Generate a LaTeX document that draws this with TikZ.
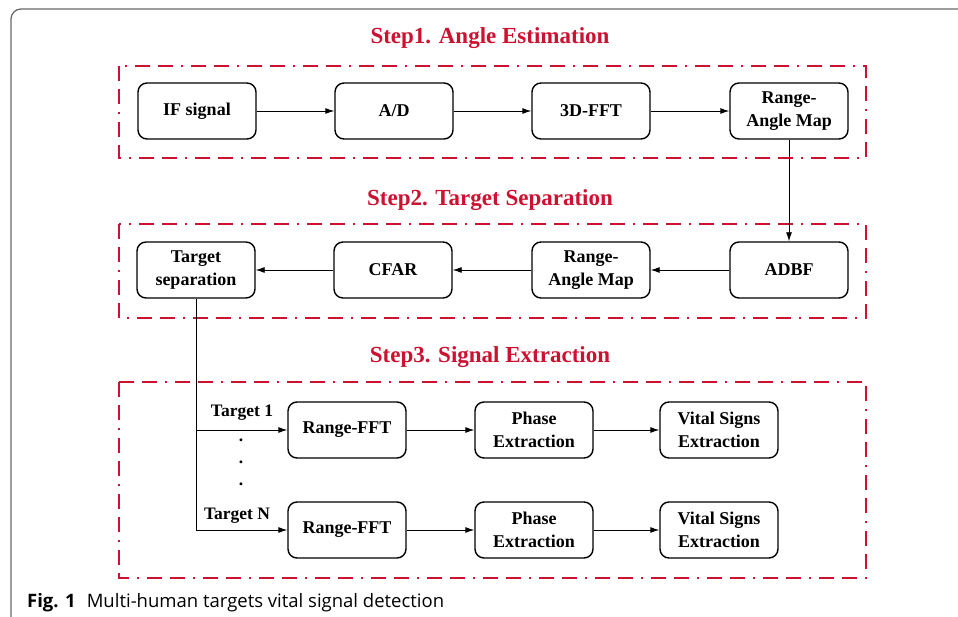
\documentclass[tikz,border=0pt]{standalone}
\usepackage{fontspec}
\setmainfont{Liberation Serif}
\newfontfamily\capfont{Open Sans}
\usetikzlibrary{arrows.meta}
\definecolor{stepred}{HTML}{CC1230}
\definecolor{framegray}{HTML}{6A6A6A}
\begin{document}
\begin{tikzpicture}[x=1pt,y=-1pt,
  blk/.style={draw, line width=1.4pt, rounded corners=9pt, minimum width=118pt, minimum height=56pt, inner sep=1pt, align=center, font=\fontsize{18}{23}\selectfont\bfseries},
  stagebox/.style={draw=stepred, line width=2.2pt, dash pattern=on 15pt off 8pt on 15pt off 8pt on 2pt off 8pt},
  steptitle/.style={text=stepred, font=\fontsize{23}{25}\selectfont\bfseries},
  flow/.style={line width=0.9pt, -{Latex[length=9pt,width=6pt]}},
  lbl/.style={font=\fontsize{17.5}{19}\selectfont\bfseries}]
\useasboundingbox (0,0) rectangle (958,617);
\fill[white] (0,0) rectangle (958,617);
% outer frame (top and left only)
\draw[framegray, line width=1.3pt, rounded corners=10pt] (11,617) -- (11,9) -- (958,9);
% stage boxes
\draw[stagebox] (119,66) rectangle (866,158);
\draw[stagebox] (119,224) rectangle (866,318);
\draw[stagebox] (119,382) rectangle (866,578);
% titles
\node[steptitle] (t1) at (490,38) {Step1. Angle Estimation};
\node[steptitle] (t2) at (490,200) {Step2. Target Separation};
\node[steptitle] (t3) at (490,357) {Step3. Signal Extraction};
% row 1
\node[blk] (if) at (197,111) {IF signal};
\node[blk] (ad) at (394,111) {A/D};
\node[blk] (fft3) at (591,111) {3D-FFT};
\node[blk] (ram1) at (789,111) {Range-\\Angle Map};
% row 2
\node[blk] (ts) at (196,270) {Target\\separation};
\node[blk] (cfar) at (393,270) {CFAR};
\node[blk] (ram2) at (591,270) {Range-\\Angle Map};
\node[blk] (adbf) at (789,270) {ADBF};
% row 3
\node[blk] (rf1) at (347,430) {Range-FFT};
\node[blk] (pe1) at (534,430) {Phase\\Extraction};
\node[blk] (vs1) at (719,430) {Vital Signs\\Extraction};
\node[blk] (rfn) at (347,530) {Range-FFT};
\node[blk] (pen) at (534,530) {Phase\\Extraction};
\node[blk] (vsn) at (719,530) {Vital Signs\\Extraction};
% arrows
\draw[flow] (if) -- (ad);
\draw[flow] (ad) -- (fft3);
\draw[flow] (fft3) -- (ram1);
\draw[flow] (ram1) -- (adbf);
\draw[flow] (adbf) -- (ram2);
\draw[flow] (ram2) -- (cfar);
\draw[flow] (cfar) -- (ts);
\coordinate (b1) at (196,430);
\coordinate (bn) at (196,530);
\draw[line width=0.9pt] (ts.south) -- (bn);
\draw[flow] (b1) -- (rf1);
\draw[flow] (bn) -- (rfn);
\draw[flow] (rf1) -- (pe1);
\draw[flow] (pe1) -- (vs1);
\draw[flow] (rfn) -- (pen);
\draw[flow] (pen) -- (vsn);
% labels
\node[lbl] (l1) at (242,413) {Target 1};
\node[lbl] (ln) at (237,516) {Target N};
\node[lbl] (d1) at (241,440) {.};
\node[lbl] (d2) at (241,462) {.};
\node[lbl] (d3) at (241,484) {.};
% caption
\node[anchor=base west, inner sep=0pt, font=\capfont\fontsize{18.5}{20}\selectfont] (cap) at (27,607) {\textbf{Fig. 1}\hspace{0.6em}Multi-human targets vital signal detection};
\end{tikzpicture}
\end{document}
